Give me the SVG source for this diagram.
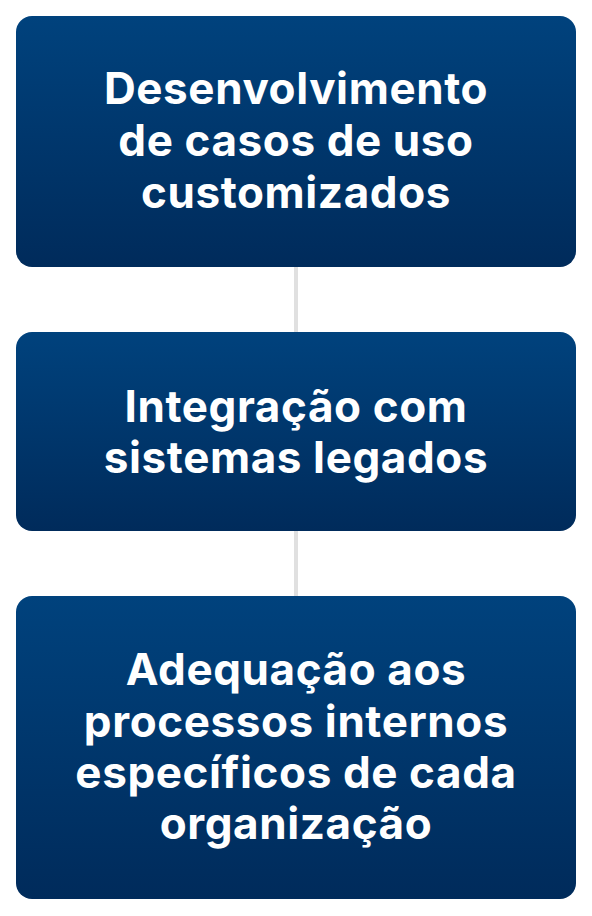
<svg xmlns="http://www.w3.org/2000/svg" width="592" height="916" viewBox="0 0 592 916">
<defs>
<linearGradient id="g" x1="0" y1="0" x2="0" y2="1">
<stop offset="0" stop-color="#00427d"/>
<stop offset="1" stop-color="#002b5b"/>
</linearGradient>
<style>
.box{fill:url(#g);}
.t{font-family:Inter,"Liberation Sans",sans-serif;font-weight:700;font-size:44px;letter-spacing:0.6px;fill:#ffffff;text-anchor:middle;}
.c{stroke:#e0e0e0;stroke-width:4;fill:none;}
</style>
</defs>
<rect width="592" height="916" fill="#ffffff"/>
<g id="connectors">
<line class="c" x1="296" y1="267" x2="296" y2="332"/>
<line class="c" x1="296" y1="531" x2="296" y2="596"/>
</g>
<g id="node1">
<rect class="box" x="16" y="16" width="560" height="251" rx="16"/>
<text class="t" x="296" y="104">Desenvolvimento</text>
<text class="t" x="296" y="156">de casos de uso</text>
<text class="t" x="296" y="208">customizados</text>
</g>
<g id="node2">
<rect class="box" x="16" y="332" width="560" height="199" rx="16"/>
<text class="t" x="296" y="422">Integração com</text>
<text class="t" x="296" y="473">sistemas legados</text>
</g>
<g id="node3">
<rect class="box" x="16" y="596" width="560" height="303" rx="16"/>
<text class="t" x="296" y="685">Adequação aos</text>
<text class="t" x="296" y="737">processos internos</text>
<text class="t" x="296" y="788">específicos de cada</text>
<text class="t" x="296" y="839">organização</text>
</g>
</svg>
